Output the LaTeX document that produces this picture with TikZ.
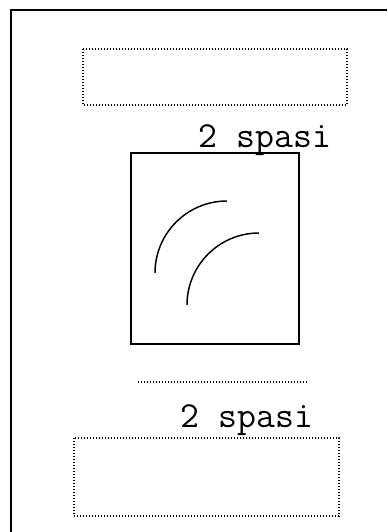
\documentclass[tikz,border=0pt]{standalone}
\usepackage{tikz}
\usetikzlibrary{positioning}
\tikzstyle{frame}=[line width=1.5pt]
\tikzstyle{dotbox}=[line width=1.2pt, dash pattern=on 1pt off 1.25pt]
\tikzstyle{figbox}=[line width=1.1pt]
\tikzstyle{spasi}=[inner sep=0pt, anchor=base, font={\ttfamily\fontsize{27.5}{31}\selectfont}]

\begin{document}
\begin{tikzpicture}[x=0.75pt, y=-0.75pt]

    \useasboundingbox (0, 0) rectangle (387, 532);

    % page edge
    \draw[frame] (11, 532) -- (11, 10) -- (387, 10);

    % caption placeholder on top
    \draw[dotbox] (83, 49) rectangle (347, 105);
    \node[spasi] (spasitop) at (265, 147) {2 spasi};

    % picture
    \draw[figbox] (131, 153) rectangle (299, 344);
    \draw[figbox] (155, 273) arc[start angle=180, end angle=270, radius=72];
    \draw[figbox] (187, 305) arc[start angle=180, end angle=270, radius=72];

    % line under the picture
    \draw[dotbox] (138, 382) -- (307, 382);

    \node[spasi] (spasibottom) at (247, 427) {2 spasi};
    \draw[dotbox] (74, 438) rectangle (339, 516);

\end{tikzpicture}
\end{document}
